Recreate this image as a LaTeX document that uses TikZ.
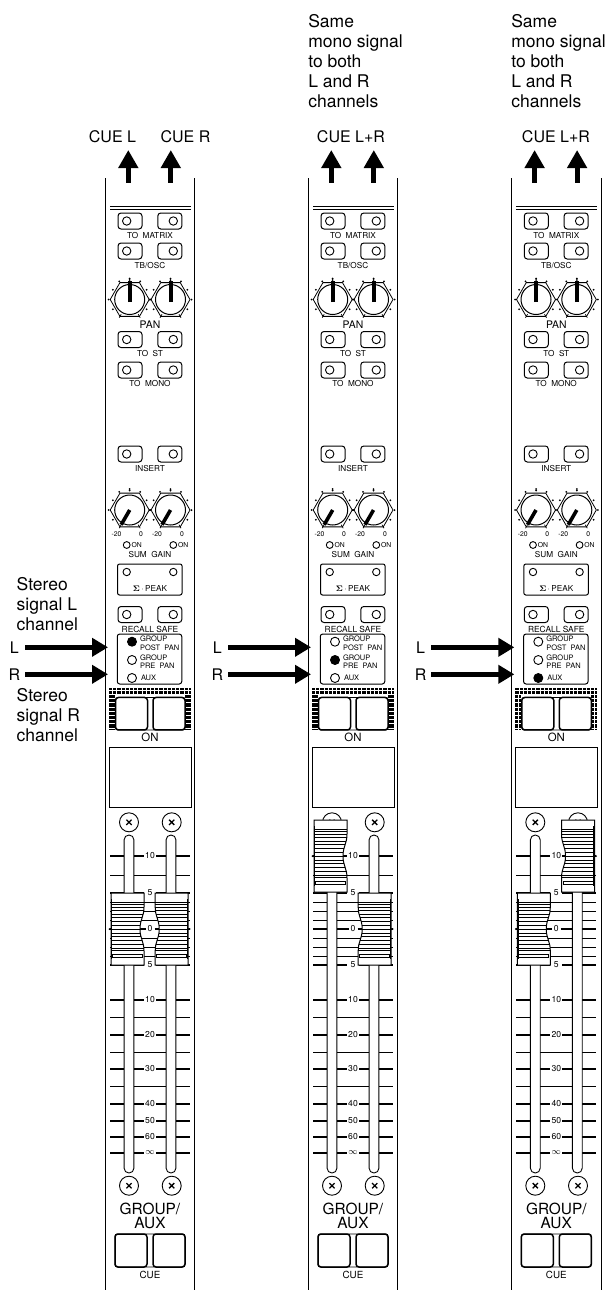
\documentclass[tikz,border=0pt]{standalone}
\usepackage{fontspec}
\setmainfont{TeX Gyre Heros}
\usetikzlibrary{arrows.meta,shapes.geometric}
\newcommand{\fsize}[1]{\fontsize{#1}{#1}\selectfont}
\newcommand{\knob}[3]{%
  \node[hexknob] (#1) at (#2,#3) {};
  \node[knobface] at (#1.center) {};
  \foreach \ang in {90,60,120,0,180} \fill ([shift={(\ang:21pt)}]#1.center) circle (1);
  \foreach \ang in {90,30,150,-30,210} \fill ([shift={(\ang:19.5pt)}]#1.center) circle (1);
  \foreach \ang in {-60,-120} \draw[thinline] ([shift={(\ang:17pt)}]#1.center) -- ([shift={(\ang:21pt)}]#1.center);
}
\newcommand{\fadercap}[3]{%
  \begin{scope}[shift={(#1,#2)},xscale=#3]
    \path[draw=black,fill=white,line width=1] (-16.5,-36) -- (16.5,-36) -- (16.5,-22)
      .. controls (16.5,-12) and (12.5,-10) .. (12.5,0)
      .. controls (12.5,10) and (16.5,12) .. (16.5,22) -- (16.5,36) -- (-16.5,36) -- cycle;
    \begin{scope}
      \clip (-16.5,-36) -- (16.5,-36) -- (16.5,-22)
        .. controls (16.5,-12) and (12.5,-10) .. (12.5,0)
        .. controls (12.5,10) and (16.5,12) .. (16.5,22) -- (16.5,36) -- (-16.5,36) -- cycle;
      \foreach \ry in {-27,-25,-22,-19,-15,-11.5,-7.3,-4,4.3,7.7,11,15.3,19.3,21.7}
        \draw[line width=0.8] (-16.5,\ry) -- (16.5,\ry);
    \end{scope}
    \draw[line width=0.9] (-18,0) -- (14,0);
    \fill (-18,0) circle (1);
    \draw[line width=1.4] (-16,-30) -- (-16,30);
    \draw[line width=0.7,fill=white] (-15,25.3) rectangle (15,28.7);
  \end{scope}
}
\begin{document}
\begin{tikzpicture}[x=1pt,y=-1pt,every node/.style={inner sep=0pt,outer sep=0pt},
    note/.style={anchor=west,align=left,font=\fontsize{17.5}{20}\selectfont},
    cuetext/.style={font=\fsize{16}},
    small/.style={font=\fsize{8.2}},
    tiny/.style={font=\fsize{6.8}},
    thinline/.style={line width=0.7},
    panelline/.style={line width=1},
    sigarrow/.style={line width=5.5,-{Triangle[length=16pt,width=18pt]}},
    cuearrow/.style={line width=4.8,-{Triangle[length=18pt,width=19pt]}},
    pushbtn/.style={draw,rectangle,rounded corners=3,line width=1,minimum height=16,minimum width=24},
    widebtn/.style={draw,rectangle,rounded corners=3,line width=1.5,minimum height=33,minimum width=32},
    led/.style={draw,circle,line width=0.9,minimum size=8.4},
    hexknob/.style={draw,regular polygon,regular polygon sides=6,minimum size=39,line width=0.8},
    knobface/.style={draw,circle,minimum size=30,line width=1},
    screw/.style={draw,circle,minimum size=19,line width=0.9},
    slot/.style={draw,fill=white,rectangle,rounded corners=4.8,minimum width=9.8,minimum height=338,line width=0.9},
    majortick/.style={line width=1.3},
    scalelabel/.style={font=\fsize{8.6}}]
  \path[use as bounding box,fill=white] (0,0) rectangle (606,1290);
  \node[cuetext] (cuel) at (112.5,137) {CUE L};
  \node[cuetext] (cuer) at (185.5,137) {CUE R};
  \node[cuetext] (cuelr2) at (351,137) {CUE L+R};
  \node[cuetext] (cuelr3) at (556,137) {CUE L+R};
  \node[note] (same2) at (308.3,61) {Same\\mono signal\\to both\\L and R\\channels};
  \node[note] (same3) at (511.3,61) {Same\\mono signal\\to both\\L and R\\channels};
  \node[note] (stereol) at (16.7,604) {Stereo\\signal L\\channel};
  \node[note] (stereor) at (16.7,715) {Stereo\\signal R\\channel};
  \foreach \sx/\nm/\ledon/\capa/\capb in {0/a/1/929/929,203/b/2/856/929,406.3/c/3/929/856} {
    \begin{scope}[shift={(\sx,0)}]
      \draw[panelline] (105.3,178) -- (105.3,1290) (194.8,178) -- (194.8,1290);
      \coordinate (\nm-out1) at (128.3,182.7);
      \coordinate (\nm-cue1) at (128.3,150);
      \coordinate (\nm-out2) at (170.8,182.7);
      \coordinate (\nm-cue2) at (170.8,150);
      \draw[cuearrow] (\nm-out1) -- (\nm-cue1);
      \draw[cuearrow] (\nm-out2) -- (\nm-cue2);
      \draw[line width=1.1] (110,206.4) -- (191,206.4) (110,209.6) -- (191,209.6);
      \foreach \rw/\ry in {mtx/221,tb/251,st/339.5,mono/370,ins/454,safe/614.5} {
        \node[pushbtn] (\nm-\rw1) at (130,\ry) {};
        \node[pushbtn] (\nm-\rw2) at (169.8,\ry) {};
        \node[led] at (126.7,\ry) {};
        \node[led] at (173.3,\ry) {};
      }
      \node[small] (\nm-tmtx) at (150,235.7) {TO\ \ MATRIX};
      \node[small] (\nm-ttb) at (150,266) {TB/OSC};
      \node[font=\fsize{10.4}] (\nm-tpan) at (150,324.3) {PAN};
      \node[small] (\nm-tst) at (150,353.7) {TO\ \ ST};
      \node[small] (\nm-tmono) at (150,384) {TO\ \ MONO};
      \node[small] (\nm-tins) at (150,468.7) {INSERT};
      \knob{\nm-pan1}{129.7}{299.5}
      \knob{\nm-pan2}{170.5}{299.5}
      \draw[line width=4] (129.7,302) -- (129.7,281);
      \draw[line width=4] (170.5,302) -- (170.5,281);
      \knob{\nm-gain1}{129.7}{510}
      \knob{\nm-gain2}{170.5}{510}
      \draw[line width=3.6] (\nm-gain1.center) -- ++(240:17pt);
      \draw[line width=3.6] (\nm-gain2.center) -- ++(240:17pt);
      \node[tiny] (\nm-m1) at (116.5,534) {-20};
      \node[tiny] (\nm-z1) at (141,534) {0};
      \node[tiny] (\nm-m2) at (157,534) {-20};
      \node[tiny] (\nm-z2) at (182,534) {0};
      \node[led,minimum size=6.8] (\nm-on1) at (126.7,545) {};
      \node[tiny,anchor=west] (\nm-ont1) at (131.5,545) {ON};
      \node[led,minimum size=6.8] (\nm-on2) at (173.3,545) {};
      \node[tiny,anchor=west] (\nm-ont2) at (178,545) {ON};
      \node[small] (\nm-sum) at (150,555) {SUM\ \ GAIN};
      \node[draw,rectangle,rounded corners=2,line width=1,minimum width=64.5,minimum height=31] (\nm-peak) at (149.8,579.5) {};
      \node[led,minimum size=7.4] at (126.7,572) {};
      \node[led,minimum size=7.4] at (173.3,572) {};
      \node[small] (\nm-tpeak) at (150,589) {\mbox{\boldmath$\Sigma$}\,\textbf{$\cdot$}\,PEAK};
      \node[small,font=\fsize{8.4}] (\nm-tsafe) at (150,629) {RECALL SAFE};
      \node[draw,rectangle,rounded corners=2.5,line width=1,minimum width=64.5,minimum height=50] (\nm-mode) at (149.5,659) {};
      \foreach \k/\ky in {1/641.7,2/660,3/678} {
        \ifnum\k=\ledon\def\ledcol{black}\else\def\ledcol{white}\fi
        \node[led,minimum size=9,fill=\ledcol] (\nm-mode\k) at (132,\ky) {};
      }
      \node[tiny,font=\fsize{7.5},anchor=west,align=left] (\nm-tm1) at (140,643.3) {GROUP\\[1pt]POST\ \ PAN};
      \node[tiny,font=\fsize{7.5},anchor=west,align=left] (\nm-tm2) at (140,661.7) {GROUP\\[1pt]PRE\ \ PAN};
      \node[tiny,font=\fsize{7.5},anchor=west] (\nm-tm3) at (141,678) {AUX};
      \draw[line width=2.7,dash pattern=on 3.2 off 1] (109,689) -- (191,689) (109,692.6) -- (191,692.6);
      \draw[line width=2.7,dash pattern=on 3.2 off 1] (110.2,695) -- (110.2,730) (113.6,695) -- (113.6,730)
        (186.4,695) -- (186.4,730) (189.8,695) -- (189.8,730);
      \draw[thinline,rounded corners=2] (115.5,697.5) rectangle (185,730);
      \node[widebtn,minimum height=32.5,fill=white] (\nm-on-l) at (131.5,713.7) {};
      \node[widebtn,minimum height=32.5,fill=white] (\nm-on-r) at (169,713.7) {};
      \node[font=\fsize{11.4}] (\nm-ton) at (150,737.8) {ON};
      \draw[line width=1] (109.3,747) rectangle (191,807.3);
      \draw[majortick] \foreach \ty in {856,893,965,1000,1035,1069,1104,1121,1137,1153} {(110,\ty) -- (144,\ty) (156,\ty) -- (190,\ty)};
      \draw[thinline] \foreach \ty in {875.5,902,911,920,938,947,956,1017,1052,1086} {(110,\ty) -- (190,\ty)};
      \draw[line width=2.4] (110,929) -- (145.5,929) (154.5,929) -- (190,929);
      \node[slot] (\nm-slot1) at (129,1004) {};
      \node[slot] (\nm-slot2) at (171,1004) {};
      \foreach \lbl/\ly in {10/856,5/893,0/929,5/965,10/1000,20/1035,30/1069,40/1104,50/1121,60/1137} {
        \node[scalelabel,fill=white,inner xsep=0.5pt] at (150,\ly) {\lbl};
      }
      \node[scalelabel,fill=white,inner xsep=0.5pt] (\nm-inf) at (150,1153) {$\infty$};
      \foreach \i/\px/\py in {1/129/822.3,2/171.7/822.3,3/129/1185.7,4/171.7/1185.7} {
        \node[screw,fill=white] (\nm-screw\i) at (\px,\py) {};
        \draw[line width=1.3] (\px-2.6,\py-2.6) -- (\px+2.6,\py+2.6) (\px-2.6,\py+2.6) -- (\px+2.6,\py-2.6);
      }
      \fadercap{127.5}{\capa}{1}
      \fadercap{171.7}{\capb}{-1}
      \node[font=\fontsize{15.4}{14}\selectfont,align=center] (\nm-group) at (150,1216) {GROUP/\\AUX};
      \draw[thinline,rounded corners=2] (115,1234) rectangle (185,1267);
      \node[widebtn] (\nm-cue-l) at (131,1250.5) {};
      \node[widebtn] (\nm-cue-r) at (169,1250.5) {};
      \node[font=\fsize{9.8}] (\nm-tcue) at (150,1274.5) {CUE};
      \node[cuetext,minimum width=12] (\nm-l) at (14.3,647.3) {L};
      \node[cuetext,minimum width=12] (\nm-r) at (14.3,674.3) {R};
      \coordinate (\nm-ltip) at (108,647.3);
      \coordinate (\nm-rtip) at (108,674.3);
      \draw[sigarrow,shorten <=4.7pt] (\nm-l) -- (\nm-ltip);
      \draw[sigarrow,shorten <=4.7pt] (\nm-r) -- (\nm-rtip);
    \end{scope}
  }
\end{tikzpicture}
\end{document}
